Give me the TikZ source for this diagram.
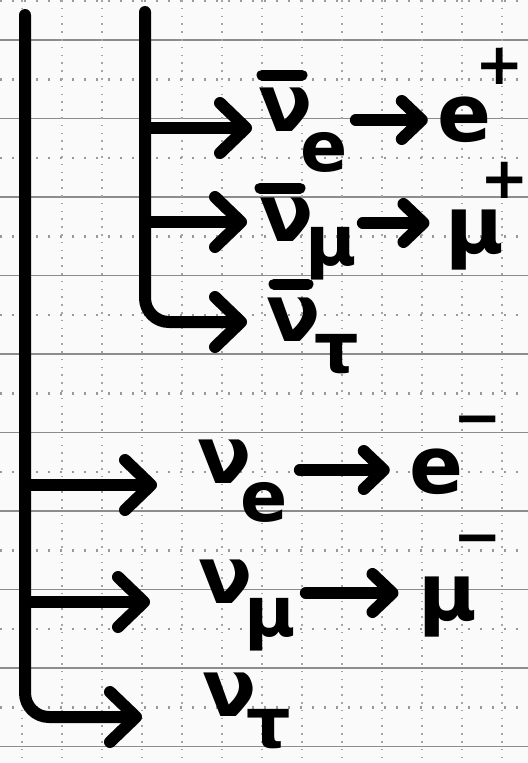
\documentclass[tikz,border=0pt]{standalone}
\usepackage{fontspec}
\setmainfont{DejaVu Sans}
\usetikzlibrary{arrows.meta,calc}
\begin{document}
\begin{tikzpicture}[x=1bp,y=-1bp,
  ink/.style={line width=12bp, line cap=round, line join=round, black},
  bigarrow/.style={ink, -{Straight Barb[length=26bp,width=50bp,round]}},
  smallarrow/.style={ink, -{Straight Barb[length=20bp,width=38bp,round]}},
  glyph/.style={inner sep=0pt, font=\fontsize{80}{82}\selectfont\bfseries},
  subglyph/.style={inner sep=0pt, font=\fontsize{70}{72}\selectfont\bfseries},
  supglyph/.style={inner sep=0pt, font=\fontsize{58}{60}\selectfont\bfseries},
  barline/.style={line width=11bp, line cap=round, black},
  solidrule/.style={line width=1.6bp, black!45},
  hdots/.style={line width=2.2bp, black!40, dash pattern=on 2bp off 10bp},
  vdots/.style={line width=1.6bp, black!35, dash pattern=on 1.6bp off 6.2bp}]
\useasboundingbox (0,0) rectangle (528,763);
\fill[black!2] (0,0) rectangle (528,763);
% grid paper
\foreach \k in {0,...,9} {\draw[solidrule] (0,{40+78.5*\k}) -- (528,{40+78.5*\k});}
\foreach \k in {0,...,9} {\draw[hdots] (0,{1+78.5*\k}) -- (528,{1+78.5*\k});}
\foreach \k in {0,...,12} {\draw[vdots] ({22+40*\k},0) -- ({22+40*\k},763);}
% outer trunk
\coordinate (T0) at (25,15);
\coordinate (Tc) at (25,717);
\coordinate (j4) at (25,485);
\coordinate (j5) at (25,602);
\coordinate (t4) at (157,485);
\coordinate (t5) at (150,602);
\coordinate (t6) at (142,717);
\draw[bigarrow, rounded corners=24bp] (T0) -- (Tc) -- (t6);
\draw[bigarrow] (j4) -- (t4);
\draw[bigarrow] (j5) -- (t5);
% inner trunk
\coordinate (I0) at (145,12);
\coordinate (Ic) at (145,322);
\coordinate (j1) at (145,128);
\coordinate (j2) at (145,222);
\coordinate (t1) at (252,128);
\coordinate (t2) at (247,222);
\coordinate (t3) at (247,322);
\draw[bigarrow, rounded corners=24bp] (I0) -- (Ic) -- (t3);
\draw[bigarrow] (j1) -- (t1);
\draw[bigarrow] (j2) -- (t2);
% row 1: anti nu_e -> e+
\node[glyph] (nu1) at (286,110) {ν};
\node[subglyph] (s1) at (324,152) {e};
\node[glyph] (p1) at (465,120) {e};
\node[supglyph] (q1) at (500,66) {+};
\draw[barline] ($(nu1.north)+(-24,-13)$) -- ++(40,0);
\draw[smallarrow, shorten <=8bp, shorten >=10bp] (s1.east |- p1.west) -- (p1.west);
% row 2: anti nu_mu -> mu+
\node[glyph] (nu2) at (287,220) {ν};
\node[subglyph] (s2) at (331,254) {μ};
\node[glyph] (p2) at (475,240) {μ};
\node[supglyph] (q2) at (505,180) {+};
\draw[barline] ($(nu2.north)+(-27,-10)$) -- ++(40,0);
\draw[smallarrow, shorten <=6bp, shorten >=16bp] ([yshift=17bp]s2.east |- p2.west) -- ([yshift=17bp]p2.west);
% row 3: anti nu_tau
\node[glyph] (nu3) at (294,320) {ν};
\node[subglyph] (s3) at (337,354) {τ};
\draw[barline] ($(nu3.north)+(-20,-14)$) -- ++(34,0);
% row 4: nu_e -> e-
\node[glyph] (nu4) at (225,462) {ν};
\node[subglyph] (s4) at (264,502) {e};
\node[glyph] (p4) at (437,472) {e};
\node[supglyph] (q4) at (478,427) {−};
\draw[smallarrow, shorten <=12bp, shorten >=20bp] ([yshift=2bp]s4.east |- p4.west) -- ([yshift=2bp]p4.west);
% row 5: nu_mu -> mu-
\node[glyph] (nu5) at (226,582) {ν};
\node[subglyph] (s5) at (270,625) {μ};
\node[glyph] (p5) at (448,607) {μ};
\node[supglyph] (q5) at (478,546) {−};
\draw[smallarrow, shorten <=10bp, shorten >=20bp] ([yshift=14bp]s5.east |- p5.west) -- ([yshift=14bp]p5.west);
% row 6: nu_tau
\node[glyph] (nu6) at (230,695) {ν};
\node[subglyph] (s6) at (269,729) {τ};
\end{tikzpicture}
\end{document}
